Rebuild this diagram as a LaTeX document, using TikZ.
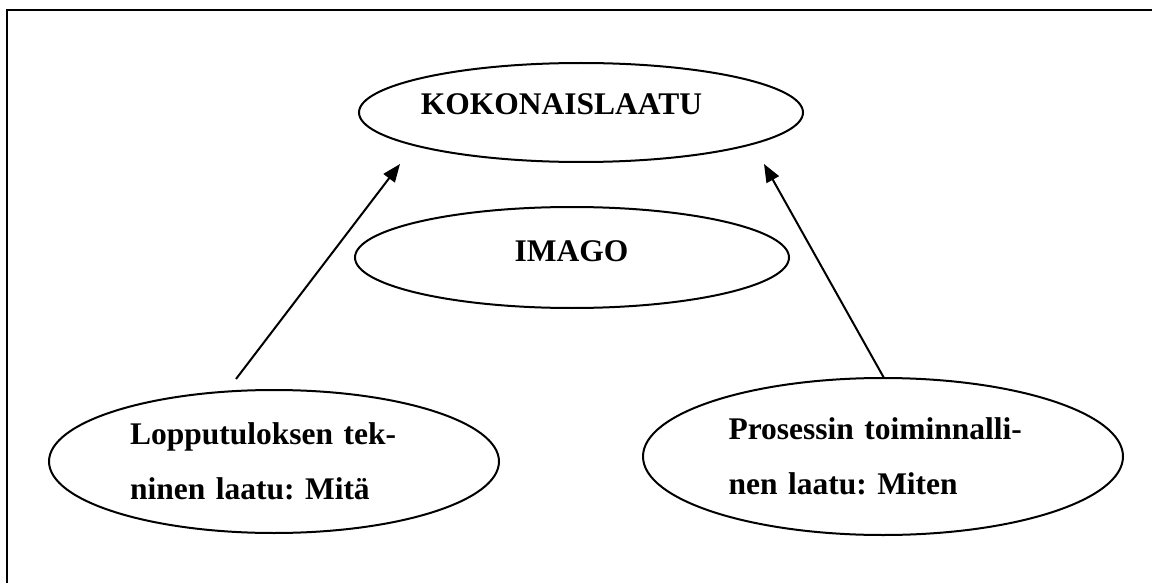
\documentclass[tikz,border=0pt]{standalone}
\usepackage{fontspec}
\setmainfont{Liberation Serif}
\usepackage{tikz}
\usetikzlibrary{arrows.meta,shapes.geometric}
\tikzset{
  oval/.style={ellipse,draw,line width=1pt,inner sep=0pt},
  heading/.style={font=\fontsize{15.75}{18}\selectfont\bfseries,inner sep=0pt},
  body/.style={font=\fontsize{15.75}{27.5}\selectfont\bfseries\frenchspacing,align=left},
  frame/.style={line width=1pt}
}
\tikzstyle{arrow} = [line width=1pt,-{Triangle[length=9pt,width=7pt]}]

\begin{document}
\begin{tikzpicture}[x=0.5pt,y=-0.5pt]
  \useasboundingbox (0,0) rectangle (1152,583);
  \draw[frame] (7,583) -- (7,10.5) -- (1152,10.5);
  % top ellipses
  \node[oval,minimum width=222pt,minimum height=49.5pt] (koko) at (581,112.5) {};
  \node[heading,anchor=base] (kokotxt) at (561.5,115) {KOKONAISLAATU};
  \node[oval,minimum width=217pt,minimum height=50.5pt] (imago) at (572,257.5) {};
  \node[heading,anchor=base] (imagotxt) at (571.5,262) {IMAGO};
  % bottom ellipses
  \node[oval,body,text width=144pt,minimum width=225pt,minimum height=71.5pt] (tekn) at (274,461.5)
    {\makebox[144pt][s]{Lopputuloksen tek-}\\ninen laatu: Mitä};
  \node[oval,body,text width=154.5pt,minimum width=240pt,minimum height=78.5pt] (toim) at (883,456.5)
    {\makebox[154.5pt][s]{Prosessin toiminnalli-}\\nen laatu: Miten};
  % arrows
  \coordinate (tekntop) at (236,379);
  \coordinate (kokoleft) at (400,164);
  \coordinate (toimtop) at (884,378);
  \coordinate (kokoright) at (764,164);
  \draw[arrow] (tekntop) -- (kokoleft);
  \draw[arrow] (toimtop) -- (kokoright);
\end{tikzpicture}
\end{document}
